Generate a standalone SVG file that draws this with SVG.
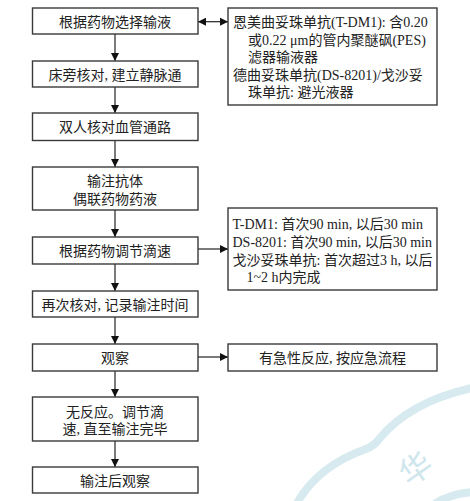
<svg xmlns="http://www.w3.org/2000/svg" width="470" height="501" viewBox="0 0 470 501">
<style>
.box{fill:#fff;stroke:#3a3a3a;stroke-width:1.4}
.t{font-family:"Liberation Serif","Noto Sans CJK SC",serif;font-size:14px;fill:#222}
.c{text-anchor:middle}
.ln{stroke:#222;stroke-width:1.2;fill:none}
.wm{fill:none;stroke:#d6eaf0;stroke-width:8;stroke-linecap:round}
</style>
<defs>
<marker id="ah" viewBox="0 0 10 10" refX="10" refY="5" markerWidth="8" markerHeight="8" markerUnits="userSpaceOnUse" orient="auto-start-reverse">
<path d="M0,0 L10,5 L0,10 Z" fill="#111"/>
</marker>
</defs>
<g id="watermark">
<path class="wm" d="M297 503 Q318 466 366 449 Q374 446 380 438 Q410 402 472 388"/>
<path class="wm" d="M436 503 Q450 494 472 492"/>
<text transform="translate(416 469) rotate(-35)" x="0" y="11" text-anchor="middle" font-family="Noto Sans CJK SC,sans-serif" font-size="32" fill="#cfe6ed">华</text>
</g>
<g id="connectors">
<line class="ln" x1="115" y1="34" x2="115" y2="61" marker-end="url(#ah)"/>
<line class="ln" x1="115" y1="87" x2="115" y2="113" marker-end="url(#ah)"/>
<line class="ln" x1="115" y1="141" x2="115" y2="167" marker-end="url(#ah)"/>
<line class="ln" x1="115" y1="210" x2="115" y2="237" marker-end="url(#ah)"/>
<line class="ln" x1="115" y1="264" x2="115" y2="291" marker-end="url(#ah)"/>
<line class="ln" x1="115" y1="317" x2="115" y2="344" marker-end="url(#ah)"/>
<line class="ln" x1="115" y1="371" x2="115" y2="397" marker-end="url(#ah)"/>
<line class="ln" x1="115" y1="441" x2="115" y2="467" marker-end="url(#ah)"/>
<line class="ln" x1="198" y1="21.7" x2="228" y2="21.7" marker-start="url(#ah)" marker-end="url(#ah)"/>
<line class="ln" x1="198" y1="249" x2="228" y2="249" marker-end="url(#ah)"/>
<line class="ln" x1="198" y1="357" x2="228" y2="357" marker-end="url(#ah)"/>
</g>
<g id="n1"><rect class="box" x="32.5" y="8" width="165.5" height="26"/><text class="t c" x="115" y="26.5">根据药物选择输液</text></g>
<g id="n2"><rect class="box" x="32.5" y="61" width="165.5" height="26"/><text class="t c" x="115" y="79.5">床旁核对, 建立静脉通</text></g>
<g id="n3"><rect class="box" x="32.5" y="113" width="165.5" height="27.5"/><text class="t c" x="115" y="132">双人核对血管通路</text></g>
<g id="n4"><rect class="box" x="32.5" y="167" width="165.5" height="43"/><text class="t c" x="115" y="186">输注抗体</text><text class="t c" x="115" y="203.5">偶联药物药液</text></g>
<g id="n5"><rect class="box" x="32.5" y="237" width="165.5" height="27"/><text class="t c" x="115" y="256">根据药物调节滴速</text></g>
<g id="n6"><rect class="box" x="32.5" y="291" width="165.5" height="26"/><text class="t c" x="115" y="309.5">再次核对, 记录输注时间</text></g>
<g id="n7"><rect class="box" x="32.5" y="344" width="165.5" height="27"/><text class="t c" x="115" y="363">观察</text></g>
<g id="n8"><rect class="box" x="32.5" y="397" width="165.5" height="44"/><text class="t c" x="115" y="416.5">无反应。调节滴</text><text class="t c" x="115" y="433.5">速, 直至输注完毕</text></g>
<g id="n9"><rect class="box" x="32.5" y="467" width="165.5" height="26"/><text class="t c" x="115" y="485.5">输注后观察</text></g>
<g id="r1"><rect class="box" x="228" y="8" width="209" height="97"/>
<text class="t" x="233" y="26.5">恩美曲妥珠单抗(T-DM1): 含0.20</text>
<text class="t" x="248" y="44.5">或0.22 μm的管内聚醚砜(PES)</text>
<text class="t" x="248" y="62">滤器输液器</text>
<text class="t" x="233" y="79.5">德曲妥珠单抗(DS-8201)/戈沙妥</text>
<text class="t" x="248" y="96.5">珠单抗: 避光液器</text>
</g>
<g id="r2"><rect class="box" x="228" y="208" width="209" height="82"/>
<text class="t" x="232.5" y="229">T-DM1: 首次90 min, 以后30 min</text>
<text class="t" x="232.5" y="246.5">DS-8201: 首次90 min, 以后30 min</text>
<text class="t" x="232.5" y="264.5">戈沙妥珠单抗: 首次超过3 h, 以后</text>
<text class="t" x="246.5" y="281.5">1~2 h内完成</text>
</g>
<g id="r3"><rect class="box" x="228" y="344" width="209" height="27"/><text class="t c" x="332.5" y="363">有急性反应, 按应急流程</text></g>
</svg>
